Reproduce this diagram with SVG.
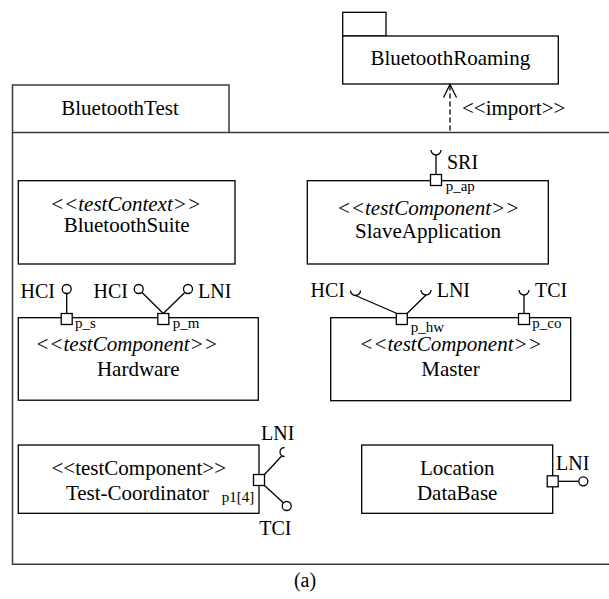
<svg xmlns="http://www.w3.org/2000/svg" width="609" height="599" viewBox="0 0 609 599">
<style>
text{font-family:"Liberation Serif","Times New Roman",serif;fill:#000}
.t{font-size:21px}
.i{font-size:20px}
.p{font-size:15px}
.st{font-style:italic}
.c{text-anchor:middle}
.e{text-anchor:end}
.box{fill:#fff;stroke:#000;stroke-width:1.3}
.frame{fill:none;stroke:#3a3a3a;stroke-width:1.5}
.ln{fill:none;stroke:#000;stroke-width:1.3}
.port{fill:#fff;stroke:#000;stroke-width:1.3}
.lol{fill:#fff;stroke:#000;stroke-width:1.3}
</style>
<rect width="609" height="599" fill="#fff"/>

<g id="BluetoothRoaming">
<rect class="box" x="342.7" y="12.3" width="43.3" height="23.7"/>
<rect class="box" x="342.7" y="36" width="215.6" height="48"/>
<text class="t c" x="450.3" y="65">BluetoothRoaming</text>
</g>

<g id="BluetoothTest">
<rect class="frame" x="12.5" y="85" width="216.5" height="47.5"/>
<path class="frame" d="M229,132.5 H609 M12.5,132.5 V564.3 H609"/>
<text class="t c" x="120" y="115">BluetoothTest</text>
</g>

<g id="BluetoothSuite">
<rect class="box" x="18.3" y="180.7" width="216.7" height="83.3"/>
<text class="t c st" x="125.5" y="210.5">&lt;&lt;testContext&gt;&gt;</text>
<text class="t c" x="126.7" y="231.5">BluetoothSuite</text>
</g>

<g id="SlaveApplication">
<rect class="box" x="307.3" y="180.7" width="241" height="83.3"/>
<text class="t c st" x="428" y="215">&lt;&lt;testComponent&gt;&gt;</text>
<text class="t c" x="428" y="237.5">SlaveApplication</text>
<path class="ln" d="M436,155 V174.5 M431,150 A5,5 0 0 0 441,150"/>
<rect class="port" x="430.5" y="174.5" width="11" height="11"/>
<text class="i" x="447" y="168.5">SRI</text>
<text class="p" x="445.7" y="190.5">p_ap</text>
</g>

<g id="Hardware">
<rect class="box" x="18.3" y="317.7" width="240" height="82.5"/>
<text class="t c st" x="126.5" y="350.5">&lt;&lt;testComponent&gt;&gt;</text>
<text class="t c" x="138.3" y="375.5">Hardware</text>
<path class="ln" d="M66.7,293.5 V313.5"/>
<circle class="lol" cx="66.7" cy="289" r="4.5"/>
<rect class="port" x="61.2" y="313.5" width="11" height="11"/>
<path class="ln" d="M163.3,313.5 L141.8,292.2 M163.3,313.5 L185,292.2"/>
<circle class="lol" cx="138.7" cy="289" r="4.5"/>
<circle class="lol" cx="188" cy="289" r="4.5"/>
<rect class="port" x="157.8" y="313.5" width="11" height="11"/>
<text class="i e" x="55" y="297.5">HCI</text>
<text class="i e" x="128" y="297.5">HCI</text>
<text class="i" x="198" y="297.5">LNI</text>
<text class="p" x="75" y="328">p_s</text>
<text class="p" x="172.7" y="328">p_m</text>
</g>

<g id="Master">
<rect class="box" x="330.7" y="317.7" width="240" height="83"/>
<text class="t c st" x="450.5" y="350.5">&lt;&lt;testComponent&gt;&gt;</text>
<text class="t c" x="450.5" y="375.5">Master</text>
<path class="ln" d="M397,313.5 L355.5,295.5 M350.5,290.5 A5,5 0 0 0 360.5,290.5"/>
<path class="ln" d="M407,313.5 L426,295 M421,290 A5,5 0 0 0 431,290"/>
<path class="ln" d="M524,295 V313.5 M519,290 A5,5 0 0 0 529,290"/>
<rect class="port" x="396.3" y="313.5" width="11" height="11"/>
<rect class="port" x="518.5" y="313.5" width="11" height="11"/>
<text class="i e" x="345" y="297">HCI</text>
<text class="i" x="436.7" y="297">LNI</text>
<text class="i" x="535" y="297">TCI</text>
<text class="p" x="410.7" y="331.7">p_hw</text>
<text class="p" x="532.3" y="328">p_co</text>
</g>

<g id="TestCoordinator">
<rect class="box" x="18.3" y="445" width="240.7" height="68.3"/>
<text class="t c" x="138.8" y="475">&lt;&lt;testComponent&gt;&gt;</text>
<text class="t c" x="137.5" y="500">Test-Coordinator</text>
<text class="p" x="221.7" y="502.3">p1[4]</text>
<path class="ln" d="M264.5,474.5 L281.5,456.2 M284.5,447.5 A4.5,4.5 0 0 0 284.5,456.5"/>
<path class="ln" d="M264.5,485.5 L283.3,502.8"/>
<circle class="lol" cx="286.7" cy="506" r="4.5"/>
<rect class="port" x="253.5" y="474.5" width="11" height="11"/>
<text class="i" x="261" y="440">LNI</text>
<text class="i" x="259.3" y="535">TCI</text>
</g>

<g id="LocationDataBase">
<rect class="box" x="361.7" y="445" width="191" height="68.3"/>
<text class="t c" x="457.2" y="475">Location</text>
<text class="t c" x="457.2" y="500">DataBase</text>
<path class="ln" d="M558.2,481.3 H578.8"/>
<circle class="lol" cx="583.3" cy="481.3" r="4.5"/>
<rect class="port" x="547.2" y="475.8" width="11" height="11"/>
<text class="i" x="556" y="470">LNI</text>
</g>

<g id="connectors">
<path class="ln" d="M450,85.5 V132.5" stroke-dasharray="5,3"/>
<path class="ln" d="M443.5,97.5 L450,84.5 L456.5,97.5"/>
<text class="t" x="462" y="115">&lt;&lt;import&gt;&gt;</text>
</g>

<text class="i c" x="305" y="587">(a)</text>
</svg>
